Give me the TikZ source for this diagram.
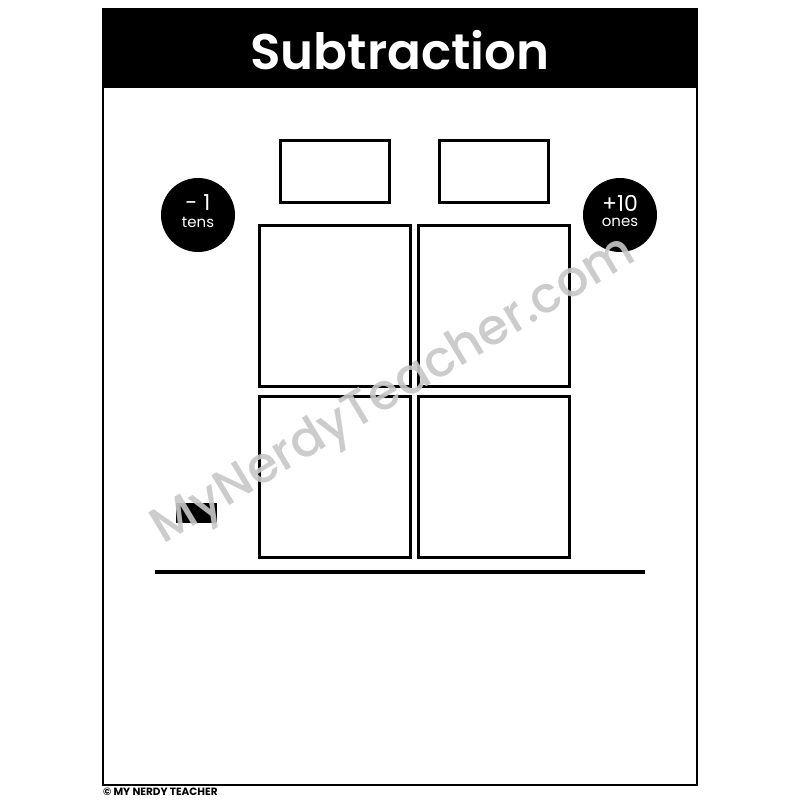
\documentclass[tikz,border=0pt]{standalone}
\usepackage{fontspec}
\setmainfont{Poppins}
\newfontfamily\popbold{Poppins}[UprightFont=* Bold]
\newfontfamily\popsemi{Poppins}[UprightFont=* SemiBold]
\newfontfamily\popmed{Poppins}[UprightFont=* Medium]
\begin{document}
\begin{tikzpicture}[x=1pt,y=-1pt,
  cell/.style={draw=black,line width=3pt,fill=white},
  badge/.style={circle,fill=black,minimum size=74pt,inner sep=0pt},
  bigtxt/.style={text=white,inner sep=0pt,font=\fontsize{22}{22}\selectfont},
  smalltxt/.style={text=white,inner sep=0pt,font=\fontsize{15}{15}\selectfont}]
\useasboundingbox (0,0) rectangle (800,800);
\fill[white] (0,0) rectangle (800,800);
% frame and header
\draw[line width=2pt] (103,9) rectangle (697,785);
\fill[black] (103,9) rectangle (697,88);
\node[text=white,font=\popsemi\fontsize{50}{50}\selectfont] (title) at (400,50) {Subtraction};
% top small boxes
\draw[cell] (280,140) rectangle (389,202);
\draw[cell] (439,140) rectangle (548,202);
% big boxes
\draw[cell] (259,225) rectangle (410,386);
\draw[cell] (418,225) rectangle (569,386);
\draw[cell] (259,396) rectangle (410,557);
\draw[cell] (418,396) rectangle (569,557);
% badges
\node[badge] (minus) at (198,215) {};
\node[bigtxt] (minusA) at (198,203) {- 1};
\node[smalltxt] (minusB) at (198,222) {tens};
\node[badge] (plus) at (620,215) {};
\node[bigtxt] (plusA) at (620,203) {+10};
\node[smalltxt] (plusB) at (620,222) {ones};
% small black rect
\fill[black] (176,503) rectangle (217,523);
% base line
\coordinate (l1) at (155,572);
\coordinate (l2) at (645,572);
\draw[line width=4pt] (l1) -- (l2);
% footer
\node[anchor=west,inner sep=0pt,font=\popbold\fontsize{10.5}{10.5}\selectfont] (foot) at (103,792) {© MY NERDY TEACHER};
% watermark
\node[rotate=31,text=black!22,opacity=0.9,font=\popmed\fontsize{50}{50}\selectfont] (wm) at (395,392) {MyNerdyTeacher.com};
\end{tikzpicture}
\end{document}
